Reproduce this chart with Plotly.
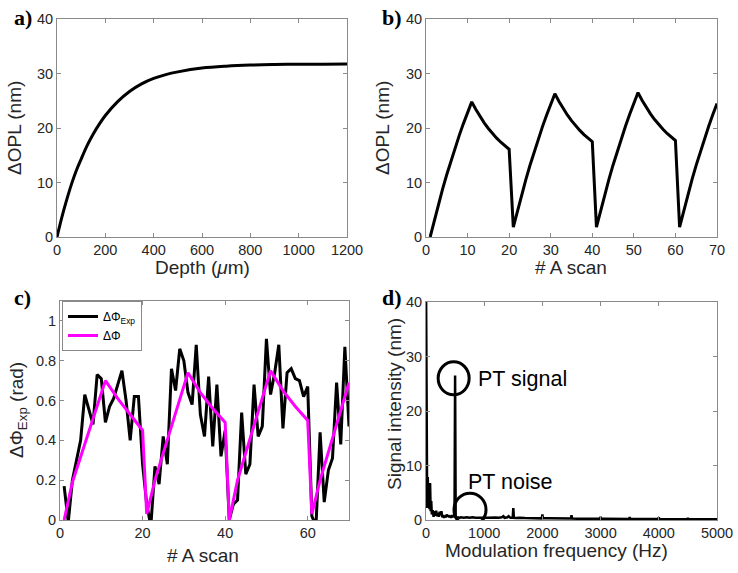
import plotly.graph_objects as go

# ---------------- data ----------------
# a) Delta OPL vs depth
depth_um = [0, 20, 40, 60, 80, 100, 125, 150, 175, 200, 250, 300, 350, 400, 450, 500,
            600, 700, 800, 900, 1000, 1100, 1200]
opl_depth_nm = [0, 3.6, 6.8, 9.7, 12.2, 14.3, 16.8, 18.9, 20.7, 22.3, 24.8, 26.7, 28.1, 29.1,
                29.8, 30.3, 31.0, 31.35, 31.55, 31.65, 31.7, 31.72, 31.75]

# b) Delta OPL vs A-scan
ascan = list(range(1, 71))
opl_ascan_nm = [0, 3.09, 6.03, 8.82, 11.47, 13.99, 16.38, 18.65, 20.81, 22.86,
                24.8, 23.38, 22.10, 20.95, 19.91, 18.98, 18.14, 17.39, 16.71, 16.1,
                1.8, 4.85, 7.75, 10.50, 13.12, 15.61, 17.97, 20.21, 22.34, 24.37,
                26.3, 24.86, 23.57, 22.40, 21.35, 20.41, 19.56, 18.80, 18.11, 17.5,
                1.8, 4.88, 7.80, 10.58, 13.22, 15.73, 18.11, 20.37, 22.52, 24.56,
                26.5, 25.06, 23.77, 22.60, 21.55, 20.61, 19.76, 19.00, 18.31, 17.7,
                1.8, 4.87, 7.79, 10.56, 13.19, 15.69, 18.07, 20.33, 22.47, 24.5]

# c) phase difference
dphi_exp = [0.17, -0.01, 0.20, 0.30, 0.40, 0.63, 0.55, 0.48, 0.73, 0.71,
            0.49, 0.57, 0.61, 0.68, 0.75, 0.60, 0.40, 0.62, 0.62, 0.28,
            0.08, -0.03, 0.27, 0.18, 0.42, 0.28, 0.76, 0.65, 0.86, 0.80,
            0.64, 0.58, 0.88, 0.53, 0.42, 0.72, 0.37, 0.68, 0.32, 0.45,
            0.00, 0.08, 0.10, 0.54, 0.23, 0.28, 0.68, 0.42, 0.47, 0.91,
            0.63, 0.74, 0.88, 0.46, 0.74, 0.76, 0.71, 0.70, 0.62, 0.67,
            0.02, -0.03, 0.44, 0.09, 0.25, 0.31, 0.69, 0.38, 0.87, 0.47]
dphi_scan = [1, 3, 11, 14, 17, 20, 21, 23, 31, 34, 37, 40, 41, 43, 51, 54, 57, 60, 61, 63, 70]
dphi_model = [0, 0.19, 0.70, 0.61, 0.53, 0.45, 0.03, 0.20, 0.74, 0.64, 0.56, 0.49,
              0.0, 0.20, 0.75, 0.65, 0.57, 0.50, 0.03, 0.20, 0.69]

# d) spectrum
freq_hz = [0, 10, 20, 30, 40, 50, 60, 70, 80, 90, 100, 115, 130, 145, 160, 175, 190, 205,
           220, 235, 250, 265, 280, 295, 310, 325, 340, 355, 370, 385, 400, 415, 430, 445,
           460, 475, 490, 500, 510, 525, 550, 575, 600, 650, 700, 750, 800, 850, 900, 950,
           990, 1000, 1010, 1050, 1100, 1150, 1200, 1250, 1300, 1330, 1350, 1400, 1420,
           1450, 1490, 1500, 1510, 1550, 1600, 1700, 1800, 1900, 1990, 2000, 2010, 2100,
           2200, 2300, 2400, 2490, 2500, 2510, 2600, 2700, 2800, 2900, 2990, 3000, 3010,
           3100, 3200, 3300, 3400, 3490, 3500, 3510, 3600, 3700, 3800, 3900, 3990, 4000,
           4010, 4100, 4200, 4300, 4400, 4490, 4500, 4510, 4600, 4700, 4800, 4900, 5000]
signal_nm = [45, 7.8, 2.2, 7.9, 3.0, 6.8, 2.0, 6.8, 1.6, 3.5, 1.0, 1.8, 0.6, 1.6, 0.8,
             1.7, 0.7, 1.3, 0.6, 1.5, 0.9, 1.6, 0.5, 0.9, 0.4, 0.8, 0.5, 1.0, 0.6, 0.9,
             0.5, 0.8, 0.4, 0.9, 0.5, 0.8, 0.6, 26.5, 0.5, 0.4, 0.5, 0.4, 0.5, 0.4, 0.5,
             0.4, 0.5, 0.4, 0.45, 0.4, 0.45, 0.7, 0.4, 0.4, 0.45, 0.4, 0.45, 0.4, 0.5,
             0.7, 0.4, 0.5, 0.7, 0.4, 0.4, 2.2, 0.4, 0.35, 0.4, 0.35, 0.35, 0.3, 0.3,
             1.0, 0.3, 0.3, 0.3, 0.3, 0.28, 0.28, 0.9, 0.28, 0.25, 0.25, 0.25, 0.22,
             0.22, 0.6, 0.22, 0.22, 0.2, 0.2, 0.2, 0.2, 0.5, 0.2, 0.2, 0.18, 0.18, 0.18,
             0.18, 0.45, 0.18, 0.16, 0.16, 0.16, 0.16, 0.16, 0.35, 0.16, 0.15, 0.15, 0.15,
             0.15, 0.15]

# ---------------- figure ----------------
W, H = 738, 573
FONT = "Liberation Sans, Arial, sans-serif"
AX_COL = "#8a8a8a"
TXT_COL = "#262626"


def fx(x):
    return x / W


def fy(y):
    return 1 - y / H


fig = go.Figure()
fig.add_trace(go.Scatter(x=depth_um, y=opl_depth_nm, mode="lines", line=dict(color="black", width=3, shape="spline"),
                         xaxis="x", yaxis="y", showlegend=False))
fig.add_trace(go.Scatter(x=ascan, y=opl_ascan_nm, mode="lines", line=dict(color="black", width=3),
                         xaxis="x2", yaxis="y2", showlegend=False))
fig.add_trace(go.Scatter(x=ascan, y=dphi_exp, mode="lines", line=dict(color="black", width=3),
                         xaxis="x3", yaxis="y3", name="ΔΦ<sub>Exp</sub>"))
fig.add_trace(go.Scatter(x=dphi_scan, y=dphi_model, mode="lines", line=dict(color="#ff00ff", width=3),
                         xaxis="x3", yaxis="y3", name="ΔΦ"))
fig.add_trace(go.Scatter(x=freq_hz, y=signal_nm, mode="lines", line=dict(color="black", width=2.5),
                         xaxis="x4", yaxis="y4", showlegend=False))


def axis(domain, rng, dtick, anchor):
    return dict(domain=domain, range=rng, dtick=dtick, tick0=0, anchor=anchor, automargin=False,
                showgrid=False, zeroline=False, showline=True, linecolor=AX_COL, linewidth=1,
                mirror="ticks", ticks="inside", ticklen=4, tickcolor=AX_COL,
                tickfont=dict(family=FONT, size=14.5, color=TXT_COL))


top = [fy(237), fy(19)]
bot_c = [fy(520), fy(301)]
bot_d = [fy(520), fy(302)]

fig.update_layout(
    template="none",
    width=W, height=H,
    margin=dict(l=0, r=0, t=0, b=0, autoexpand=False),
    paper_bgcolor="white", plot_bgcolor="white",
    xaxis=axis([fx(57), fx(347)], [0, 1200], 200, "y"),
    yaxis=axis(top, [0, 40], 10, "x"),
    xaxis2=axis([fx(426), fx(717)], [0, 70], 10, "y2"),
    yaxis2=axis(top, [0, 40], 10, "x2"),
    xaxis3=axis([fx(60), fx(349)], [0, 70], 20, "y3"),
    yaxis3=axis(bot_c, [0, 1.1], 0.2, "x3"),
    xaxis4=axis([fx(426), fx(717)], [0, 5000], 1000, "y4"),
    yaxis4=axis(bot_d, [0, 40], 10, "x4"),
    legend=dict(x=fx(62), y=fy(301), xanchor="left", yanchor="top",
                bgcolor="white", bordercolor=AX_COL, borderwidth=1,
                font=dict(family=FONT, size=12, color="black"),
                tracegroupgap=0),
)

# panel labels
for txt, x, y in [("a)", 23, 17), ("b)", 392, 17), ("c)", 22, 297), ("d)", 392, 297)]:
    fig.add_annotation(text=f"<b>{txt}</b>", x=fx(x), y=fy(y), xref="paper", yref="paper",
                       xanchor="center", yanchor="middle", showarrow=False,
                       font=dict(family="Liberation Serif, Times New Roman, serif", size=22, color="black"))

# axis titles
titles = [
    ("Depth (<i>μ</i>m)", 202, 267, 0),
    ("ΔOPL (nm)", 15, 128, -90),
    ("# A scan", 571, 267, 0),
    ("ΔOPL (nm)", 383, 128, -90),
    ("# A scan", 203, 555, 0),
    ("ΔΦ<sub>Exp</sub> (rad)", 18, 410, -90),
    ("Modulation frequency (Hz)", 556, 550, 0),
    ("Signal intensity (nm)", 394, 404, -90),
]
for txt, x, y, ang in titles:
    fig.add_annotation(text=txt, x=fx(x), y=fy(y), xref="paper", yref="paper", textangle=ang,
                       xanchor="center", yanchor="middle", showarrow=False,
                       font=dict(family=FONT, size=19, color=TXT_COL))

# circles and labels in d
fig.add_shape(type="circle", xref="x4", yref="y4", xsizemode="pixel", ysizemode="pixel",
              xanchor=475, yanchor=26, x0=-15.5, x1=15.5, y0=-16.5, y1=16.5,
              line=dict(color="black", width=3))
fig.add_shape(type="circle", xref="x4", yref="y4", xsizemode="pixel", ysizemode="pixel",
              xanchor=756, yanchor=1.9, x0=-16, x1=16, y0=-16.5, y1=16.5,
              line=dict(color="black", width=3))
fig.add_annotation(text="PT signal", x=860, y=25.9, xref="x4", yref="y4", xanchor="left", yanchor="middle",
                   showarrow=False, font=dict(family=FONT, size=21.5, color="black"))
fig.add_annotation(text="PT noise", x=687, y=7.0, xref="x4", yref="y4", xanchor="left", yanchor="middle",
                   showarrow=False, font=dict(family=FONT, size=21.5, color="black"))

fig.write_html("out.html", config={"displayModeBar": False},
               post_script="document.body.style.margin='0';document.body.style.overflow='hidden';")
